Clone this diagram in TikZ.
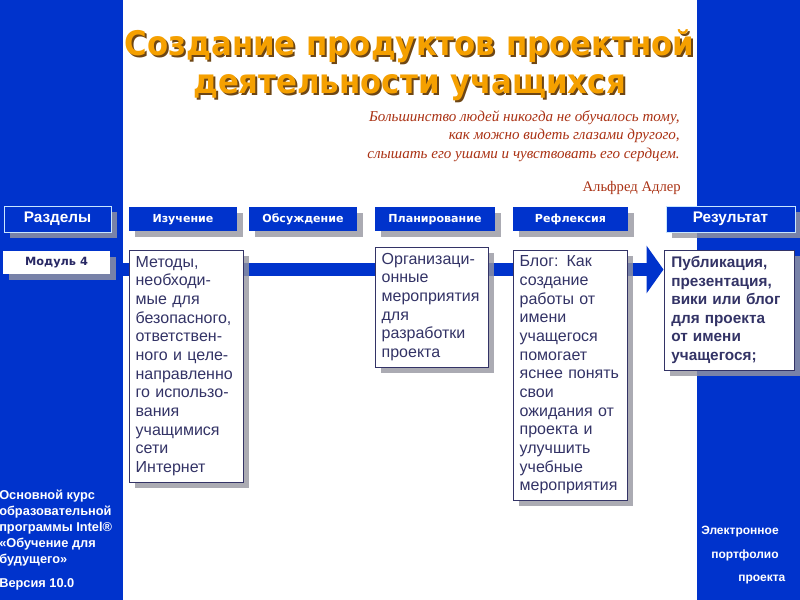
\documentclass[tikz,border=0pt]{standalone}
\usepackage{fontspec}
\setmainfont{Liberation Sans}
\newfontfamily\titlefont{DejaVu Sans}
\newfontfamily\serifq{Liberation Serif}
\usetikzlibrary{shadows,arrows.meta,backgrounds}
\definecolor{bandblue}{RGB}{0,51,204}
\definecolor{boxtext}{RGB}{51,51,102}
\definecolor{modtext}{RGB}{40,40,100}
\definecolor{titleor}{RGB}{245,160,0}
\definecolor{titlesh}{RGB}{110,70,20}
\definecolor{quotec}{RGB}{170,50,20}
\definecolor{shadowc}{RGB}{150,150,160}
\definecolor{lightedge}{RGB}{200,230,255}
\tikzset{
  sh/.style={drop shadow={shadow xshift=4.5pt, shadow yshift=-4.5pt, fill=shadowc, opacity=0.8}},
  hdr/.style={sh, fill=bandblue, text=white, inner sep=0pt, minimum height=18pt,
    text height=6.6pt, text depth=1.2pt,
    font=\titlefont\bfseries\fontsize{8.3}{10}\selectfont},
  bighdr/.style={sh, fill=bandblue, draw=lightedge, line width=0.75pt, text=white, inner sep=0pt,
    minimum height=19.5pt, font=\bfseries\fontsize{11.5}{13}\selectfont},
  modbox/.style={sh, fill=white, text=modtext, inner sep=0pt, minimum width=80.25pt, minimum height=17.25pt,
    font=\titlefont\bfseries\fontsize{8.5}{10}\selectfont},
  txtbox/.style={sh, fill=white, draw=boxtext, line width=0.75pt, text=boxtext, align=left,
    inner xsep=5pt, inner ysep=0pt, font=\fontsize{12}{14}\selectfont},
  ttl/.style={font=\titlefont\bfseries\fontsize{23.1}{27}\selectfont, inner sep=0pt, anchor=base},
  bar/.style={draw=bandblue, line width=9.75pt, -{Triangle[width=35.25pt,length=12.75pt]}},
  sidetext/.style={text=white, inner sep=0pt, font=\bfseries\fontsize{9}{12}\selectfont}
}
\begin{document}
\begin{tikzpicture}[x=0.75pt,y=-0.75pt]
\useasboundingbox (0,0) rectangle (800,600);
\begin{pgfonlayer}{background}
\fill[white] (0,0) rectangle (800,600);
\fill[bandblue] (0,0) rectangle (123,600);
\fill[bandblue] (697,0) rectangle (800,600);
\end{pgfonlayer}

% title
\node[ttl, text=titlesh] (t1s) at (411.5,57.5) {\scalebox{1}[1.1]{Создание продуктов проектной}};
\node[ttl, text=titleor] (t1) at (409.5,55.5) {\scalebox{1}[1.1]{Создание продуктов проектной}};
\node[ttl, text=titlesh] (t2s) at (411.5,95.5) {\scalebox{1}[1.1]{деятельности учащихся}};
\node[ttl, text=titleor] (t2) at (409.5,93.5) {\scalebox{1}[1.1]{деятельности учащихся}};

% quote
\node[anchor=north east, align=right, text=quotec, inner sep=0pt,
  font=\serifq\itshape\fontsize{11.3}{13.9}\selectfont] (quote) at (680,110)
  {Большинство людей никогда не обучалось тому,\\
   как можно видеть глазами другого,\\
   слышать его ушами и чувствовать его сердцем.};
\node[anchor=east, text=quotec, inner sep=0pt, font=\serifq\fontsize{11}{13}\selectfont] (author) at (681,188) {Альфред Адлер};

% headers
\node[bighdr, minimum width=80.25pt] (razd) at (57.5,219) {Разделы};
\node[hdr, minimum width=81pt] (izuch) at (183,219) {Изучение};
\node[hdr, minimum width=81pt] (obsuzh) at (303,219) {Обсуждение};
\node[hdr, minimum width=90pt] (plan) at (435,219) {Планирование};
\node[hdr, minimum width=86.25pt] (refl) at (570.5,219) {Рефлексия};
\node[bighdr, minimum width=96.75pt] (rezult) at (730.5,219) {Результат};

% module
\node[modbox] (mod) at (56.5,262.5) {Модуль 4};

% text boxes
\node[txtbox, text width=75.5pt, minimum height=174pt] (metody) at (186,366)
 {Методы,\\необходи-\\мые для\\безопасного,\\ответствен-\\ного и целе-\\направленно\\го использо-\\вания\\учащимися\\сети\\Интернет};
\node[txtbox, text width=74.75pt, minimum height=90pt] (org) at (431.5,307)
 {Организаци-\\онные\\мероприятия\\для\\разработки\\проекта};
\node[txtbox, text width=75.5pt, minimum height=187.5pt] (blog) at (570,375)
 {Блог: Как\\создание\\работы от\\имени\\учащегося\\помогает\\яснее понять\\свои\\ожидания от\\проекта и\\улучшить\\учебные\\мероприятия};
\node[txtbox, inner xsep=5.5pt, text width=86.5pt, minimum height=90pt, font=\bfseries\fontsize{11.5}{13.9}\selectfont] (res) at (729,310)
 {Публикация,\\презентация,\\вики или блог\\для проекта\\от имени\\учащегося;};

% arrow bar
\coordinate (barY) at (0,269.5);
\begin{pgfonlayer}{background}
\draw[bar] (mod.east |- barY) -- (res.west |- barY);
\end{pgfonlayer}

% side texts
\node[sidetext, anchor=north west, align=left, font=\bfseries\fontsize{9.6}{12}\selectfont] (course) at (-1,490)
 {Основной курс\\образовательной\\программы Intel®\\«Обучение для\\будущего»\\[6pt]Версия 10.0};
\node[sidetext, anchor=west] (el) at (701,532) {Электронное};
\node[sidetext, anchor=west] (portf) at (711,555) {портфолио};
\node[sidetext, anchor=west] (proj) at (738,580) {проекта};
\end{tikzpicture}
\end{document}
